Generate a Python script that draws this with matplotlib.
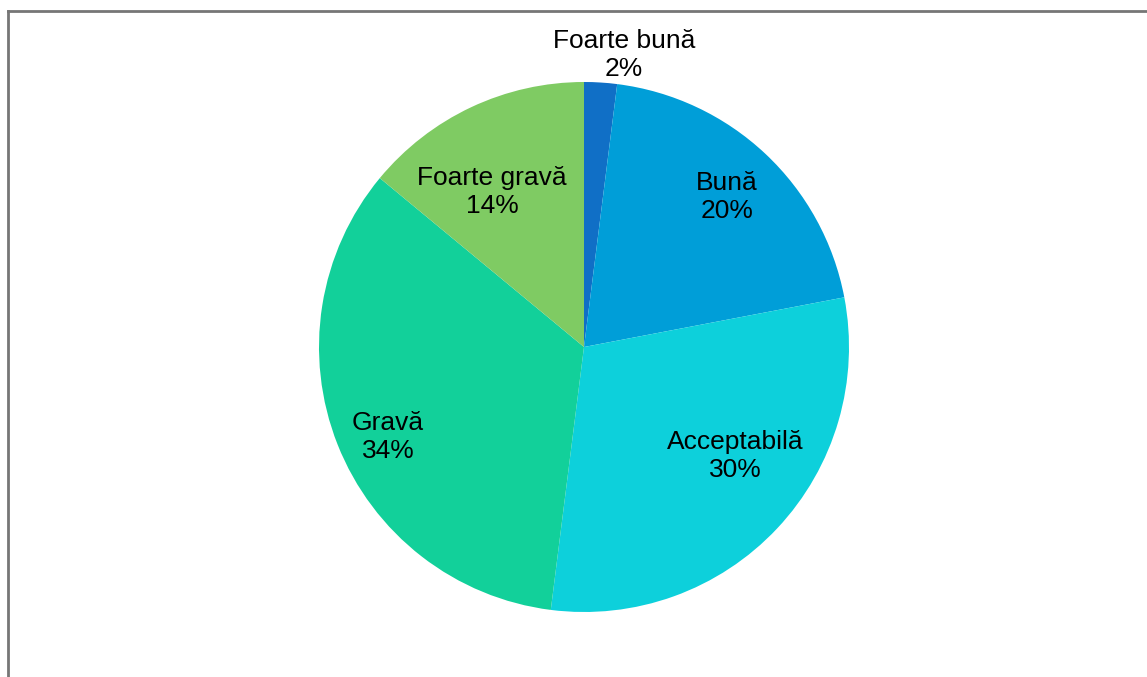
import numpy as np
import matplotlib.pyplot as plt
from matplotlib.lines import Line2D

# data
categories = ['Foarte bună', 'Bună', 'Acceptabilă', 'Gravă', 'Foarte gravă']
values = [2, 20, 30, 34, 14]
colors = ['#106FC6', '#009ED8', '#0DD0DB', '#12D09A', '#7FCB63']

plt.rcParams['font.family'] = ['Liberation Sans', 'DejaVu Sans']

W, H = 1147, 677
fig = plt.figure(figsize=(W / 100, H / 100), dpi=100)
ax = fig.add_axes([0, 0, 1, 1])

cx, cy, r = 584, H - 347, 265
ax.pie(values, colors=colors, startangle=90, counterclock=False,
       center=(cx, cy), radius=r, wedgeprops=dict(linewidth=0))

# label positions (px offsets from centre, y up)
label_pos = [(40, 292), (143, 150), (151, -109), (-196, -90), (-92, 155)]
for cat, v, (dx, dy) in zip(categories, values, label_pos):
    ax.text(cx + dx, cy + dy, f'{cat}\n{v}%', ha='center', va='center',
            fontsize=19, color='black', linespacing=1.25)

ax.set_xlim(0, W)
ax.set_ylim(0, H)
ax.set_aspect('auto')
ax.axis('off')

# chart frame (clipped at right and bottom)
fig.add_artist(Line2D([8 / W, 8 / W], [0, 1 - 11 / H], color='#767676', lw=2))
fig.add_artist(Line2D([8 / W, 1], [1 - 11 / H, 1 - 11 / H], color='#767676', lw=2))

fig.savefig('out.png', dpi=100)
